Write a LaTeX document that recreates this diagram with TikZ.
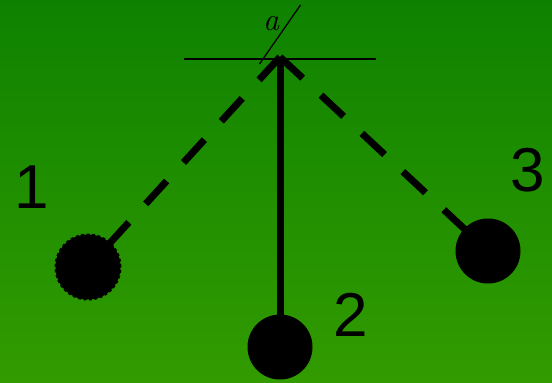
\documentclass[tikz,border=0pt]{standalone}
\usepackage{fontspec}
\newfontfamily\digitfont{Liberation Sans}
\usetikzlibrary{calc}
\definecolor{topgreen}{RGB}{14,130,0}
\definecolor{botgreen}{RGB}{50,155,0}
\begin{document}
\begin{tikzpicture}[x=1pt,y=-1pt,
  bob/.style={circle,fill=black,minimum size=65pt,inner sep=0pt},
  dashbob/.style={bob,draw=black,line width=2pt,dash pattern=on 3pt off 2.5pt},
  rod/.style={line width=7pt},
  dashrod/.style={line width=7pt,dash pattern=on 31pt off 25pt},
  numlabel/.style={font=\digitfont\fontsize{62}{62}\selectfont,inner sep=0pt},
  thin/.style={line width=1.3pt}]
\shade[top color=topgreen,bottom color=botgreen] (0,0) rectangle (552,383);
\useasboundingbox (0,0) rectangle (552,383);
\coordinate (pivot) at (280,57);
\coordinate (hl) at (184,59);
\coordinate (hr) at (376,59);
\coordinate (sl) at (259.5,64);
\coordinate (sr) at (300.5,5);
\node[bob] (b2) at (280,347) {};
\node[dashbob] (b1) at (88,267) {};
\node[bob] (b3) at (488,251) {};
\draw[thin] (hl) -- (hr);
\draw[thin] (sl) -- (sr);
\node[inner sep=0pt,font=\fontsize{32}{32}\selectfont\itshape] (a) at (271,24) {a};
\draw[rod] (b2.center) -- (pivot);
\draw[dashrod] (pivot) -- (b1.center);
\draw[dashrod] (pivot) -- (b3.center);
\node[numlabel] (l1) at (32,187) {1};
\node[numlabel] (l2) at (351,315) {2};
\node[numlabel] (l3) at (528,170) {3};
\end{tikzpicture}
\end{document}
